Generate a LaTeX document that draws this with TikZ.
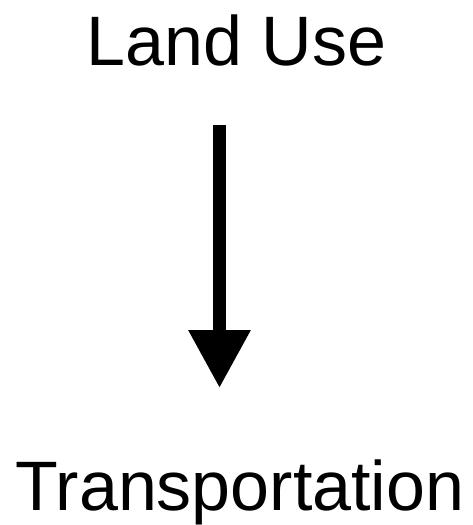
\documentclass[tikz,border=0pt]{standalone}
\usepackage{fontspec}
\setmainfont{Liberation Sans}
\usetikzlibrary{arrows.meta}
\tikzset{
  label text/.style={inner sep=0pt, anchor=base, font=\fontsize{70pt}{80pt}\selectfont},
  bigarrow/.style={line width=12.7pt, -{Triangle[length=58pt,width=59pt]}}
}
\begin{document}
\begin{tikzpicture}[x=1pt,y=1pt]
\useasboundingbox (0,0) rectangle (473,-525);
\node[label text] (lu) at (236.5,-65) {Land Use};
\node[label text] (tr) at (240,-510) {Transportation};
\coordinate (a1) at (219.5,-125);
\coordinate (a2) at (219.5,-388);
\draw[bigarrow] (a1) -- (a2);
\end{tikzpicture}
\end{document}
